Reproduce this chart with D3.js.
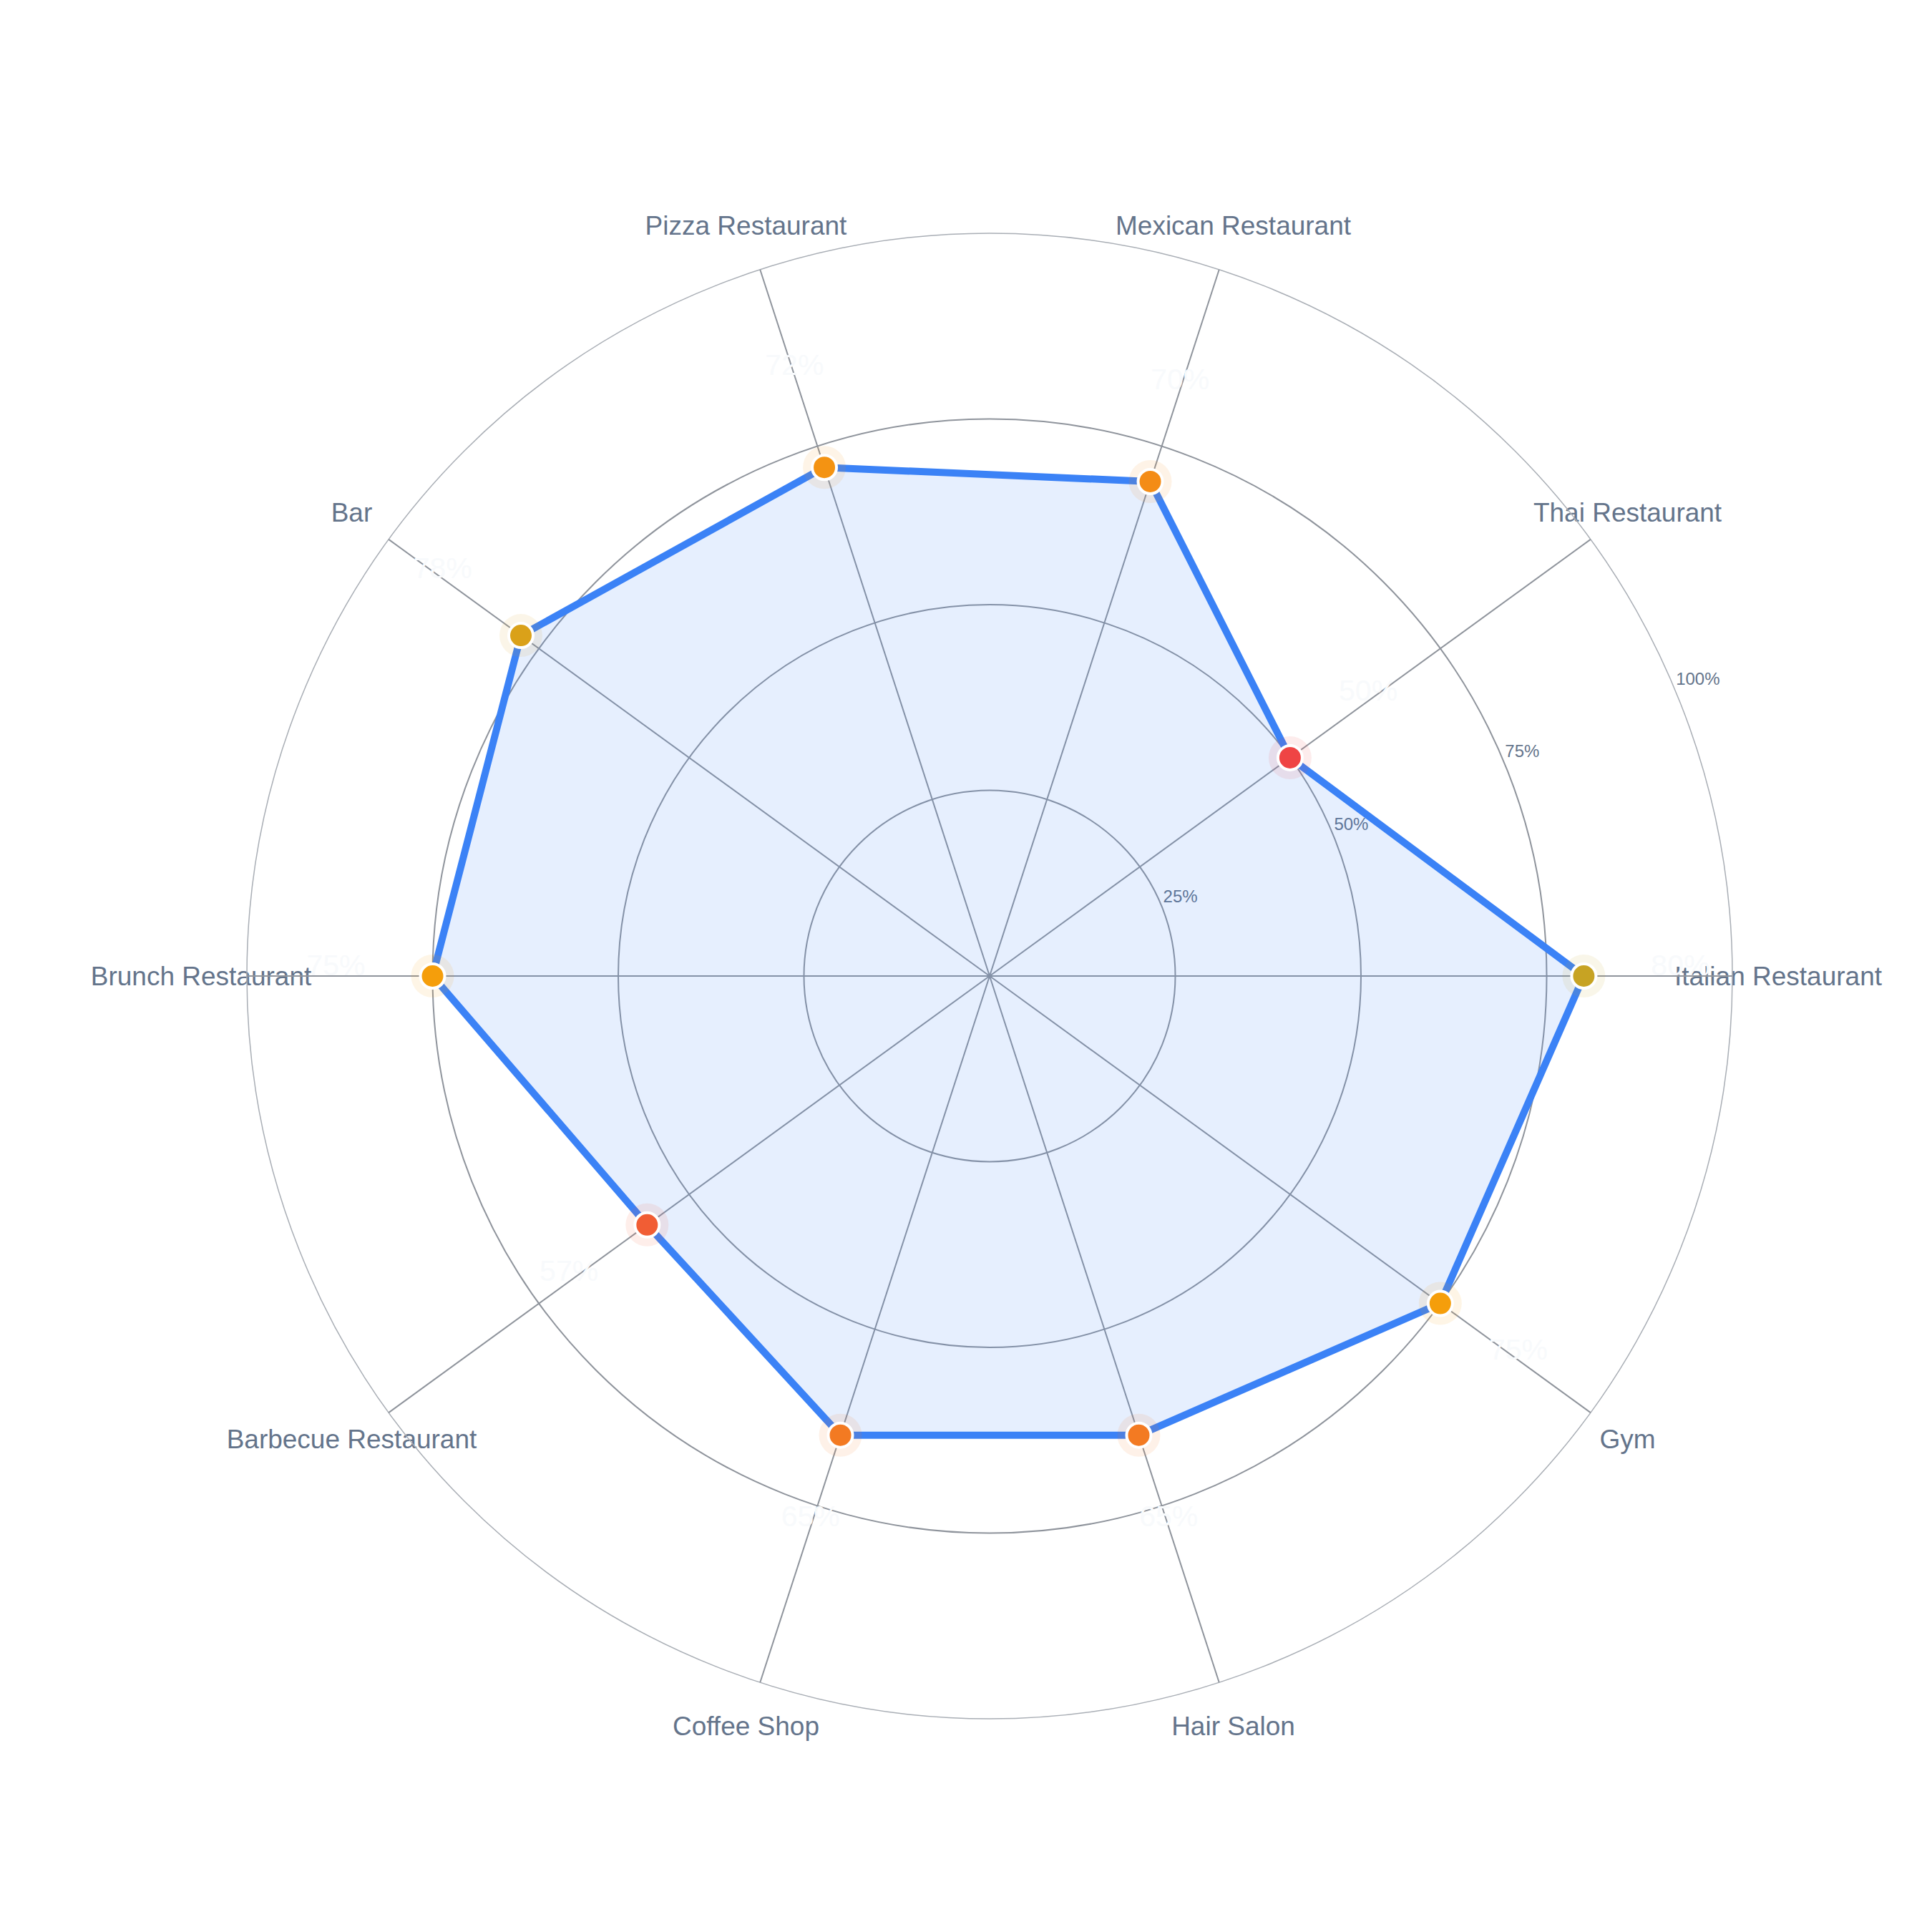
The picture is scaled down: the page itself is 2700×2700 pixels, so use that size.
<!DOCTYPE html>
<html>
<head>
<meta charset="utf-8">
<script src="https://cdn.jsdelivr.net/npm/d3@7"></script>
<style>
  html, body { margin: 0; padding: 0; background: #ffffff; }
  svg text { font-family: "Liberation Sans", Arial, Helvetica, sans-serif; }
</style>
</head>
<body>
<div id="chart"></div>
<script>
// categories, counter-clockwise from the east
const categories = ['Italian Restaurant', 'Thai Restaurant', 'Mexican Restaurant', 'Pizza Restaurant', 'Bar',
	'Brunch Restaurant', 'Barbecue Restaurant', 'Coffee Shop', 'Hair Salon', 'Gym'];
const values = [80, 50, 70, 72, 78, 75, 57, 65, 65, 75];
const radialTicks = [25, 50, 75, 100];

/***** BASIC SETUP *****/
const width = 2700;
const height = 2700;
const cx = 1383;
const cy = 1364;
const R = 1038;

const svg = d3.select('#chart').append('svg').attr('width', width).attr('height', height);
const g = svg.append('g').attr('transform', `translate(${cx}, ${cy})`);

/***** SCALES *****/
const rScale = d3.scaleLinear().domain([0, 100]).range([0, R]);
// theta: counter-clockwise from east, in radians
const thetaScale = d3.scaleLinear().domain([0, categories.length]).range([0, 2 * Math.PI]);
const colorScale = d3.scaleLinear().domain([50, 75, 100]).range(['#ef4444', '#f59e0b', '#10b981']).clamp(true);

function px(r, i) { return r * Math.cos(thetaScale(i)); }
function py(r, i) { return -r * Math.sin(thetaScale(i)); }

const data = categories.map((c, i) => ({ name: c, value: values[i], i: i }));

/***** CATEGORY LABELS (under the grid) *****/
g.selectAll('.catLabel')
	.data(data)
	.enter()
	.append('text')
	.attr('class', 'catLabel')
	.attr('x', (d) => px(R + 64, d.i))
	.attr('y', (d) => py(R + 64, d.i))
	.attr('text-anchor', 'middle')
	.attr('dominant-baseline', 'central')
	.attr('font-size', 37)
	.attr('fill', '#64748b')
	.text((d) => d.name);

/***** GRID *****/
g.selectAll('.ring')
	.data(radialTicks)
	.enter()
	.append('circle')
	.attr('class', 'ring')
	.attr('r', (d) => rScale(d))
	.attr('fill', 'none')
	.attr('stroke', (d) => (d === 100 ? '#a9aeb5' : '#8f949c'))
	.attr('stroke-width', (d) => (d === 100 ? 1.5 : 2));

g.selectAll('.spoke')
	.data(data)
	.enter()
	.append('line')
	.attr('class', 'spoke')
	.attr('x1', 0)
	.attr('y1', 0)
	.attr('x2', (d) => px(R, d.i))
	.attr('y2', (d) => py(R, d.i))
	.attr('stroke', '#8f949c')
	.attr('stroke-width', 2);

// radial tick labels
const tickAngle = 23 * Math.PI / 180;
g.selectAll('.tickLabel')
	.data(radialTicks)
	.enter()
	.append('text')
	.attr('class', 'tickLabel')
	.attr('x', (d) => (rScale(d) + 4) * Math.cos(tickAngle))
	.attr('y', (d) => -(rScale(d) + 4) * Math.sin(tickAngle))
	.attr('text-anchor', 'start')
	.attr('font-size', 24)
	.attr('fill', '#64748b')
	.text((d) => d + '%');

/***** POLYGON *****/
const radial = d3.lineRadial()
	.angle((d) => Math.PI / 2 - thetaScale(d.i))
	.radius((d) => rScale(d.value))
	.curve(d3.curveLinearClosed);

g.append('path')
	.datum(data)
	.attr('d', radial)
	.attr('fill', 'rgba(59, 130, 246, 0.13)')
	.attr('stroke', '#3b82f6')
	.attr('stroke-width', 10)
	.attr('stroke-linejoin', 'round');

/***** POINTS *****/
g.selectAll('.halo')
	.data(data)
	.enter()
	.append('circle')
	.attr('class', 'halo')
	.attr('cx', (d) => px(rScale(d.value), d.i))
	.attr('cy', (d) => py(rScale(d.value), d.i))
	.attr('r', 30)
	.attr('fill', (d) => colorScale(d.value))
	.attr('fill-opacity', 0.1);

g.selectAll('.dot')
	.data(data)
	.enter()
	.append('circle')
	.attr('class', 'dot')
	.attr('cx', (d) => px(rScale(d.value), d.i))
	.attr('cy', (d) => py(rScale(d.value), d.i))
	.attr('r', 17)
	.attr('fill', (d) => colorScale(d.value))
	.attr('stroke', '#ffffff')
	.attr('stroke-width', 4);

/***** VALUE LABELS *****/
g.selectAll('.valLabel')
	.data(data)
	.enter()
	.append('text')
	.attr('class', 'valLabel')
	.attr('x', (d) => px(rScale(d.value) + 135, d.i))
	.attr('y', (d) => py(rScale(d.value) + 135, d.i) - 15)
	.attr('text-anchor', 'middle')
	.attr('dominant-baseline', 'central')
	.attr('font-size', 41)
	.attr('fill', '#f8fafc')
	.text((d) => d.value + '%');
</script>
</body>
</html>
